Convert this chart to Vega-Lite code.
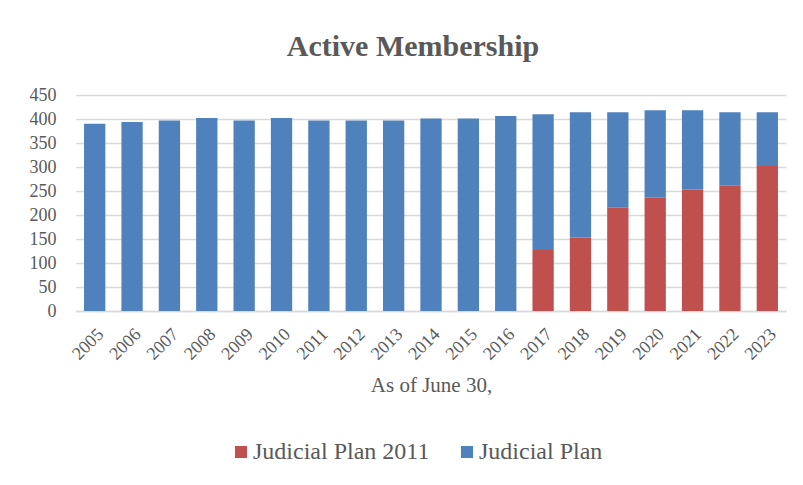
{
  "$schema": "https://vega.github.io/schema/vega-lite/v6.json",
  "width": 710,
  "height": 216,
  "autosize": {"type": "none"},
  "padding": {"left": 76, "top": 95, "right": 17, "bottom": 174},
  "background": "white",
  "title": {
    "text": "Active Membership",
    "font": "Liberation Serif",
    "fontSize": 30,
    "fontWeight": "bold",
    "color": "#595959",
    "anchor": "middle",
    "frame": "group",
    "baseline": "alphabetic",
    "offset": 0,
    "dx": -18
  },
  "data": {
    "values": [
      {"year": "2005", "plan": "Judicial Plan", "members": 390, "ord": 2},
      {"year": "2006", "plan": "Judicial Plan", "members": 394, "ord": 2},
      {"year": "2007", "plan": "Judicial Plan", "members": 397, "ord": 2},
      {"year": "2008", "plan": "Judicial Plan", "members": 402, "ord": 2},
      {"year": "2009", "plan": "Judicial Plan", "members": 397, "ord": 2},
      {"year": "2010", "plan": "Judicial Plan", "members": 402, "ord": 2},
      {"year": "2011", "plan": "Judicial Plan", "members": 397, "ord": 2},
      {"year": "2012", "plan": "Judicial Plan", "members": 397, "ord": 2},
      {"year": "2013", "plan": "Judicial Plan", "members": 397, "ord": 2},
      {"year": "2014", "plan": "Judicial Plan", "members": 401, "ord": 2},
      {"year": "2015", "plan": "Judicial Plan", "members": 401, "ord": 2},
      {"year": "2016", "plan": "Judicial Plan", "members": 406, "ord": 2},
      {"year": "2017", "plan": "Judicial Plan", "members": 283, "ord": 2},
      {"year": "2018", "plan": "Judicial Plan", "members": 261, "ord": 2},
      {"year": "2019", "plan": "Judicial Plan", "members": 199, "ord": 2},
      {"year": "2020", "plan": "Judicial Plan", "members": 182, "ord": 2},
      {"year": "2021", "plan": "Judicial Plan", "members": 165, "ord": 2},
      {"year": "2022", "plan": "Judicial Plan", "members": 153, "ord": 2},
      {"year": "2023", "plan": "Judicial Plan", "members": 112, "ord": 2},
      {"year": "2017", "plan": "Judicial Plan 2011", "members": 127, "ord": 1},
      {"year": "2018", "plan": "Judicial Plan 2011", "members": 153, "ord": 1},
      {"year": "2019", "plan": "Judicial Plan 2011", "members": 215, "ord": 1},
      {"year": "2020", "plan": "Judicial Plan 2011", "members": 236, "ord": 1},
      {"year": "2021", "plan": "Judicial Plan 2011", "members": 253, "ord": 1},
      {"year": "2022", "plan": "Judicial Plan 2011", "members": 261, "ord": 1},
      {"year": "2023", "plan": "Judicial Plan 2011", "members": 302, "ord": 1}
    ]
  },
  "mark": {"type": "bar"},
  "encoding": {
    "x": {
      "field": "year",
      "type": "ordinal",
      "scale": {"paddingInner": 0.43, "paddingOuter": 0.215},
      "axis": {
        "title": "As of June 30,",
        "titleFont": "Liberation Serif",
        "titleFontSize": 21,
        "titleFontWeight": "normal",
        "titleColor": "#595959",
        "titlePadding": 11,
        "labelAngle": -45,
        "labelFont": "Liberation Serif",
        "labelFontSize": 18,
        "labelColor": "#595959",
        "labelPadding": 14,
        "ticks": false,
        "domainColor": "#D9D9D9",
        "domainWidth": 1.5
      }
    },
    "y": {
      "field": "members",
      "type": "quantitative",
      "aggregate": "sum",
      "stack": "zero",
      "scale": {"domain": [0, 450], "nice": false},
      "axis": {
        "title": null,
        "values": [0, 50, 100, 150, 200, 250, 300, 350, 400, 450],
        "labelFont": "Liberation Serif",
        "labelFontSize": 18,
        "labelColor": "#595959",
        "labelPadding": 20,
        "ticks": false,
        "domain": false,
        "gridColor": "#D9D9D9",
        "gridWidth": 1.5
      }
    },
    "color": {
      "field": "plan",
      "type": "nominal",
      "scale": {"domain": ["Judicial Plan 2011", "Judicial Plan"], "range": ["#C0504D", "#4F81BD"]},
      "legend": {
        "title": null,
        "orient": "none",
        "direction": "horizontal",
        "legendX": 153,
        "legendY": 345,
        "symbolType": "square",
        "symbolSize": 144,
        "symbolStrokeWidth": 0,
        "labelFont": "Liberation Serif",
        "labelFontSize": 24,
        "labelColor": "#595959",
        "labelOffset": 0,
        "labelLimit": 400,
        "columnPadding": 25,
        "padding": 0
      }
    },
    "order": {"field": "ord", "type": "quantitative"}
  },
  "config": {
    "view": {"stroke": null}
  }
}
